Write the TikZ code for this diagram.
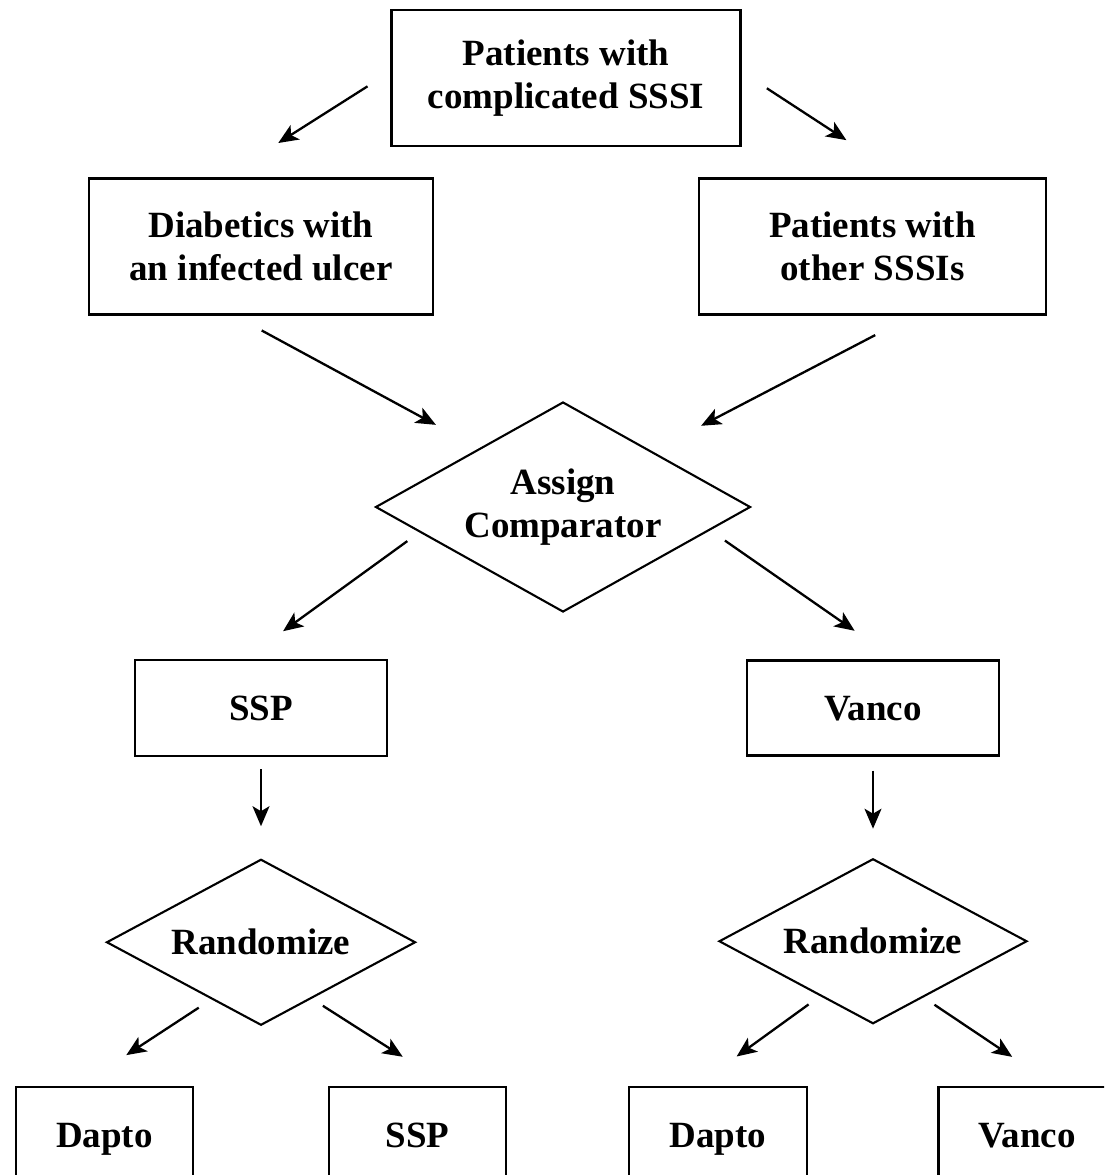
\documentclass[tikz,border=0pt]{standalone}
\usepackage{fontspec}
\setmainfont{Liberation Serif}
\usetikzlibrary{positioning, arrows.meta, shapes.geometric}

\begin{document}
\begin{tikzpicture}[
        x=1pt, y=-1pt,
        node distance = 101pt and 40pt,
        box/.style = {draw, line width=2.4pt, inner sep=0pt, align=center, font=\fontsize{37}{43}\selectfont\bfseries},
        choice/.style = {draw, diamond, aspect=1.8, line width=2.1pt, inner sep=0pt, align=center, font=\fontsize{37}{43}\selectfont\bfseries},
        oneline/.style = {text height=30pt, text depth=5.5pt},
        arrow/.style = {-{Stealth[length=20pt, width=17pt, inset=5pt]}, line width=2.3pt},
    ]
        \path[use as bounding box, clip] (0,0) rectangle (1104,1175);
        \fill[white] (0,0) rectangle (1104,1175);

        \node[box, minimum width=349pt, minimum height=136pt] (cssi) at (566,78) {Patients with\\complicated SSSI};
        \node[box, minimum width=344pt, minimum height=136pt] (diab) at (261,246.5) {Diabetics with\\an infected ulcer};
        \node[box, minimum width=347pt, minimum height=136pt] (other) at (872.5,246.5) {Patients with\\other SSSIs};
        \node[choice, minimum width=375pt, minimum height=210pt] (assign) at (563,507) {Assign\\Comparator};
        \node[box, oneline, minimum width=252pt, minimum height=96pt] (ssp) at (261,708) {SSP};
        \node[box, oneline, minimum width=252pt, minimum height=95pt] (vanco) at (873,708) {Vanco};
        \node[choice, oneline, minimum width=309pt, minimum height=166pt, below=of ssp] (randA) {Randomize};
        \node[choice, oneline, minimum width=308pt, minimum height=165pt, below=of vanco] (randB) {Randomize};
        \node[box, oneline, minimum width=177pt, minimum height=96pt] (daptoA) at (104.5,1135) {Dapto};
        \node[box, oneline, minimum width=177pt, minimum height=96pt] (sspB) at (417.5,1135) {SSP};
        \node[box, oneline, minimum width=178pt, minimum height=96pt] (daptoB) at (718,1135) {Dapto};
        \node[box, oneline, minimum width=177pt, minimum height=96pt] (vancoB) at (1027,1135) {Vanco};

        \draw[arrow, shorten <=27pt, shorten >=64pt] (cssi.178) -- (diab.118);
        \draw[arrow, shorten <=30pt, shorten >=68pt] (cssi.2) -- (other.66);
        \draw[arrow, shorten <=31pt, shorten >=49pt] (diab.249) -- (assign.145);
        \draw[arrow, shorten <=42pt, shorten >=55pt] (other.300) -- (assign.32);
        \draw[arrow, shorten <=15pt, shorten >=47pt] (assign.190) -- (ssp.108);
        \draw[arrow, shorten <=18pt, shorten >=50pt] (assign.351) -- (vanco.65);
        \draw[arrow, shorten <=12pt, shorten >=32pt] (ssp) -- (randA);
        \draw[arrow, shorten <=14pt, shorten >=29pt] (vanco) -- (randB);
        \draw[arrow, shorten <=15pt, shorten >=56pt] (randA.229) -- (daptoA.117);
        \draw[arrow, shorten <=13pt, shorten >=54pt] (randA.312) -- (sspB.58);
        \draw[arrow, shorten <=14pt, shorten >=50pt] (randB.226) -- (daptoB.114);
        \draw[arrow, shorten <=13pt, shorten >=52pt] (randB.312) -- (vancoB.60);
    \end{tikzpicture}
\end{document}
